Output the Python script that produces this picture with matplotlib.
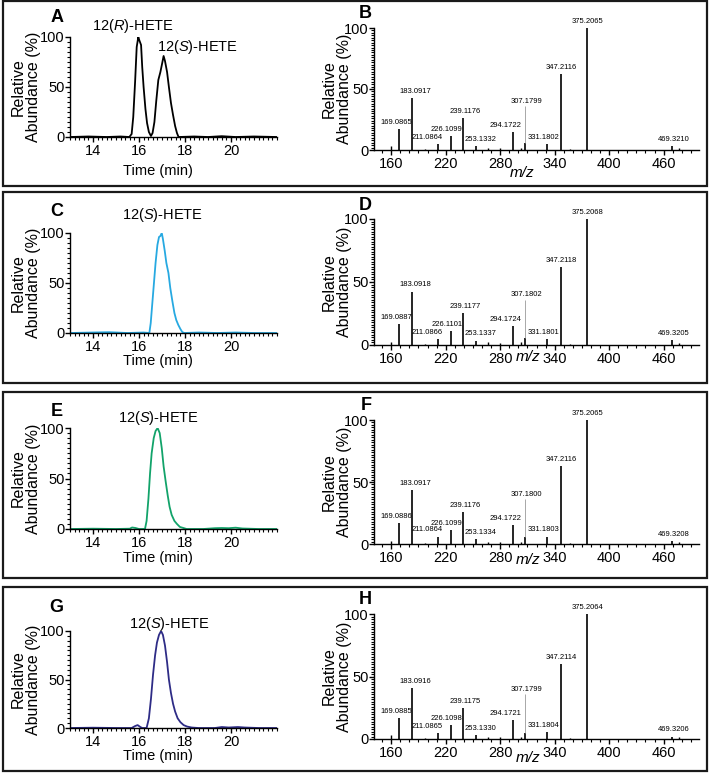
import matplotlib.pyplot as plt
from matplotlib.patches import Rectangle
from matplotlib.ticker import MultipleLocator

plt.rcParams['font.family'] = ['Liberation Sans', 'DejaVu Sans']
plt.rcParams['mathtext.fontset'] = 'custom'
plt.rcParams['mathtext.rm'] = 'Liberation Sans'
plt.rcParams['mathtext.it'] = 'Liberation Sans:italic'

# chiral LC traces: time (min) vs relative abundance (%)
time_A = [13.0, 13.8, 14.6, 15.2, 15.58, 15.68, 15.75, 15.83, 15.90, 15.97, 16.01, 16.09, 16.14,
          16.20, 16.28, 16.35, 16.43, 16.52, 16.59, 16.67, 16.75, 16.84, 16.93, 17.01, 17.07, 17.13,
          17.22, 17.30, 17.39, 17.48, 17.57, 17.65, 17.72, 18.4, 19.0, 19.6, 20.2, 21.0, 22.0]
abund_A = [0, 0.5, 0, 0.5, 0, 3, 20, 55, 90, 100, 97, 92, 70,
           50, 28, 14, 5, 1, 4, 15, 36, 57, 65, 74, 81, 76,
           65, 50, 34, 22, 11, 4, 0, 0.5, 0, 0.8, 0, 0.5, 0]

time_C = [13.0, 14.0, 14.7, 15.5, 16.2, 16.45, 16.51, 16.58, 16.65, 16.72, 16.80, 16.87, 16.93,
          16.99, 17.04, 17.12, 17.19, 17.28, 17.36, 17.45, 17.54, 17.62, 17.71, 17.80, 17.88, 17.97,
          18.6, 19.4, 20.2, 21.0, 22.0]
abund_C = [0, 0.5, 0.8, 0, 0.5, 0, 10, 30, 50, 70, 88, 96, 97,
           100, 94, 82, 70, 60, 45, 32, 20, 13, 8, 4, 1, 0,
           0.5, 0, 0.5, 0, 0]

time_E = [13.0, 14.0, 15.0, 15.6, 15.7, 15.85, 16.0, 16.26, 16.33, 16.41, 16.48, 16.55, 16.64,
          16.72, 16.81, 16.90, 16.99, 17.07, 17.16, 17.25, 17.33, 17.42, 17.54, 17.65, 17.78, 17.93,
          18.07, 18.8, 19.3, 19.6, 19.9, 20.2, 20.5, 21.2, 22.0]
abund_E = [0, 0.3, 0, 0.3, 1.5, 1, 0, 0, 8, 30, 55, 75, 90,
           97, 100, 95, 80, 62, 47, 33, 22, 14, 8, 5, 2, 1,
           0, 0, 0.8, 1, 0.8, 1.3, 0.5, 0, 0]

time_G = [13.0, 14.0, 15.0, 15.68, 15.83, 15.94, 16.06, 16.14, 16.33, 16.43, 16.52, 16.61, 16.70,
          16.78, 16.87, 16.96, 17.04, 17.13, 17.22, 17.30, 17.39, 17.48, 17.57, 17.68, 17.80, 17.94,
          18.09, 18.29, 18.58, 19.3, 19.6, 19.9, 20.3, 20.6, 21.2, 22.0]
abund_G = [0, 0.3, 0, 0, 2, 3, 1, 0, 0, 10, 30, 55, 75,
           88, 96, 100, 96, 85, 68, 50, 36, 25, 17, 10, 6, 3,
           1.5, 0.5, 0, 0, 1, 0.5, 1, 0.5, 0, 0]

# MS/MS spectra: labelled fragments (m/z text) and their relative abundance (%)
labels_B = ['169.0865', '183.0917', '211.0864', '226.1099', '239.1176', '253.1332',
            '294.1722', '307.1799', '331.1802', '347.2116', '375.2065', '469.3210']
height_B = [17, 42.5, 5, 11.5, 26, 3.5, 14.5, 5.5, 5, 62.5, 100, 3]
labels_D = ['169.0887', '183.0918', '211.0866', '226.1101', '239.1177', '253.1337',
            '294.1724', '307.1802', '331.1801', '347.2118', '375.2068', '469.3205']
height_D = [16.7, 42.4, 4.5, 11, 25, 3.5, 15, 5.3, 5, 62, 100, 4]
labels_F = ['169.0886', '183.0917', '211.0864', '226.1099', '239.1176', '253.1334',
            '294.1722', '307.1800', '331.1803', '347.2116', '375.2065', '469.3208']
height_F = [17, 43.5, 6, 11, 26, 4, 15, 6, 6, 63, 100, 2.5]
labels_H = ['169.0885', '183.0916', '211.0865', '226.1098', '239.1175', '253.1330',
            '294.1721', '307.1799', '331.1804', '347.2114', '375.2064', '469.3206']
height_H = [17, 40.7, 5, 11, 25, 3.5, 15, 5, 5.3, 60, 100, 2]

# small unlabelled peaks
minor_mz = [160, 197, 267, 280, 303, 357, 477]
minor_B = [3.3, 1, 2, 1.3, 2, 1, 1.5]
minor_D = [2.7, 1, 2, 1.3, 2, 1, 1.3]
minor_F = [2.5, 1, 2, 1.3, 2, 1, 1.3]
minor_H = [3, 1, 2, 1.3, 2, 1, 1.3]

chrom_letters = ['A', 'C', 'E', 'G']
spec_letters = ['B', 'D', 'F', 'H']
chrom_traces = [(time_A, abund_A), (time_C, abund_C), (time_E, abund_E), (time_G, abund_G)]
chrom_colors = ['black', '#27A9E1', '#12A36A', '#2E2C86']
spectra = [(labels_B, height_B, minor_B), (labels_D, height_D, minor_D),
           (labels_F, height_F, minor_F), (labels_H, height_H, minor_H)]
compound_R = '12($\\mathit{R}$)-HETE'
compound_S = '12($\\mathit{S}$)-HETE'

# --- layout (pixels of a 713x773 canvas) ---
W, H = 713, 773
box_y = [(1, 186), (192, 383), (392, 578), (587, 771)]
chrom_x = (70, 277)
chrom_y = [(37, 137), (233, 333), (428, 529), (631, 728)]
spec_x = (374, 699)
spec_y = [(28, 150), (219, 345), (420, 544), (614, 739)]
chrom_letter_pos = [(57, 17), (57, 212), (57, 411), (56, 607)]
spec_letter_pos = [(365, 14), (365, 206), (366, 405), (365, 600)]
compound_pos = [[(133, 26, compound_R), (198, 47, compound_S)],
                [(163, 215, compound_S)], [(159, 418, compound_S)], [(170, 624, compound_S)]]
time_label_y = [171, 361, 558, 756]
mz_label_pos = [(522, 173), (528, 357), (528, 560), (528, 758)]
# label nudges in m/z units for each labelled fragment
label_dx = [-3, 4, -11, -5, 2.5, 5, -8, 1.5, -3.5, 0, 1.5, 2]


def fx(px):
    return px / W


def fy(py):
    return 1 - py / H


def axes_at(xr, yr):
    return fig.add_axes([fx(xr[0]), fy(yr[1]), (xr[1] - xr[0]) / W, (yr[1] - yr[0]) / H])


def style(ax, fs):
    for s in ['top', 'right']:
        ax.spines[s].set_visible(False)
    for s in ['left', 'bottom']:
        ax.spines[s].set_linewidth(1.0)
    ax.tick_params(which='major', direction='out', length=3.5, width=1.0, labelsize=fs)
    ax.tick_params(which='minor', direction='out', length=2, width=0.8)


fig = plt.figure(figsize=(W / 100, H / 100), dpi=100)

for i in range(4):
    y0, y1 = box_y[i]
    fig.patches.append(Rectangle((fx(3), fy(y1)), (707 - 3) / W, (y1 - y0) / H,
                                 transform=fig.transFigure, fill=False,
                                 edgecolor='#1a1a1a', linewidth=1.6))

    # chromatogram
    ax = axes_at(chrom_x, chrom_y[i])
    t, a = chrom_traces[i]
    ax.plot(t, a, color=chrom_colors[i], linewidth=1.3)
    ax.set_xlim(13, 22)
    ax.set_ylim(0, 100)
    ax.set_xticks([14, 16, 18, 20])
    ax.set_yticks([0, 50, 100])
    ax.xaxis.set_minor_locator(MultipleLocator(0.2))
    ax.yaxis.set_minor_locator(MultipleLocator(5))
    style(ax, 10.5)
    ax.tick_params(axis='x', pad=1.5)
    ax.tick_params(axis='y', pad=0.5)

    fig.text(fx(26), fy((chrom_y[i][0] + chrom_y[i][1]) / 2), 'Relative\nAbundance (%)',
             rotation=90, ha='center', va='center', fontsize=11.5, linespacing=1.05)
    fig.text(fx(158), fy(time_label_y[i]), 'Time (min)', ha='center', va='center', fontsize=10.5)
    lx, ly = chrom_letter_pos[i]
    fig.text(fx(lx), fy(ly), chrom_letters[i], ha='center', va='center',
             fontsize=13, fontweight='bold')
    for cx, cy, txt in compound_pos[i]:
        fig.text(fx(cx), fy(cy), txt, ha='center', va='center', fontsize=10.5)

    # spectrum
    ax = axes_at(spec_x, spec_y[i])
    labels, heights, minors = spectra[i]
    mz = [float(s) for s in labels]
    ax.vlines(mz, 0, heights, color='black', linewidth=1.2)
    ax.vlines(minor_mz, 0, minors, color='black', linewidth=1.0)
    for k, s in enumerate(labels):
        if s.startswith('307'):
            ax.vlines(mz[k], heights[k], 36, color='#9a9a9a', linewidth=0.6)
            ty = 37
        else:
            ty = heights[k] + 2.5
        ax.text(mz[k] + label_dx[k], ty, s, ha='center', va='bottom', fontsize=5.5,
                clip_on=False)
    ax.set_xlim(141, 499)
    ax.set_ylim(0, 100)
    ax.set_xticks([160, 220, 280, 340, 400, 460])
    ax.set_yticks([0, 50, 100])
    ax.xaxis.set_minor_locator(MultipleLocator(10))
    ax.yaxis.set_minor_locator(MultipleLocator(2))
    style(ax, 10.5)
    ax.tick_params(axis='x', pad=1.5)
    ax.tick_params(axis='y', pad=0.5)

    fig.text(fx(337), fy((spec_y[i][0] + spec_y[i][1]) / 2), 'Relative\nAbundance (%)',
             rotation=90, ha='center', va='center', fontsize=11.5, linespacing=1.05)
    mx, my = mz_label_pos[i]
    fig.text(fx(mx), fy(my), 'm/z', ha='center', va='center', fontsize=11, fontstyle='italic')
    lx, ly = spec_letter_pos[i]
    fig.text(fx(lx), fy(ly), spec_letters[i], ha='center', va='center',
             fontsize=13, fontweight='bold')

fig.savefig('out.png', dpi=100)
